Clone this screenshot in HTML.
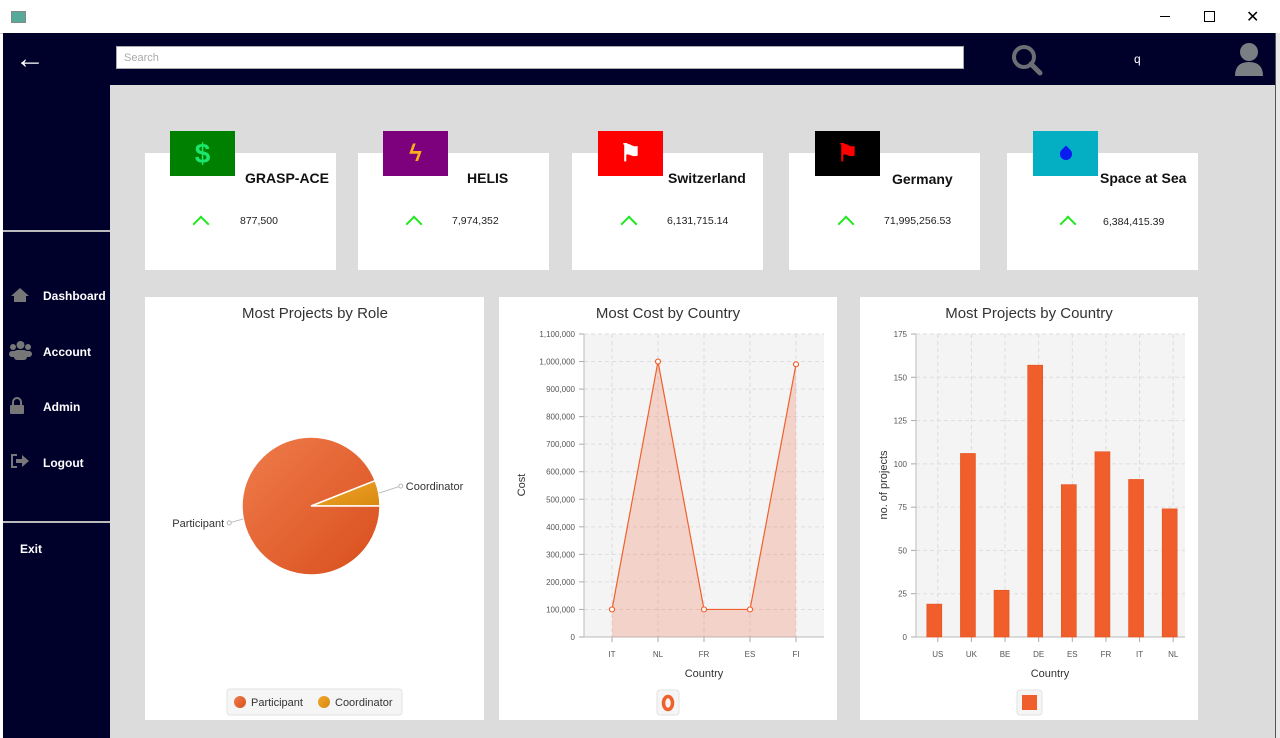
<!DOCTYPE html>
<html><head><meta charset="utf-8">
<style>
body{margin:0;width:1280px;height:738px;overflow:hidden;background:#fff;font-family:"Liberation Sans",sans-serif;position:relative}
.abs{position:absolute}
.navy{background:#00012b}
.card{position:absolute;background:#fff;top:153px;width:191px;height:117px}
.ico{position:absolute;top:131px;width:65px;height:45px;display:flex;align-items:center;justify-content:center;font-weight:bold;font-size:28px}
.ttl{position:absolute;top:170px;font-weight:bold;font-size:14px;color:#111}
.val{position:absolute;top:215px;font-size:10.5px;color:#222}
.chev{position:absolute;top:214px;width:10px;height:10px;border-left:2px solid #1ee81e;border-top:2px solid #1ee81e;transform:rotate(45deg)}
.nav{position:absolute;left:43px;color:#fff;font-weight:bold;font-size:12px}
.panel{position:absolute;background:#fff;top:297px;height:423px}
</style></head><body>
<div class="abs" style="left:0;top:0;width:1280px;height:33px;background:#fff;border-bottom:1px solid #ccc">
 <div class="abs" style="left:11px;top:11px;width:13px;height:10px;border:1px solid #888;background:#5a9"></div>
 <div class="abs" style="left:1160px;top:16px;width:10px;height:1px;background:#000"></div>
 <div class="abs" style="left:1204px;top:11px;width:9px;height:9px;border:1px solid #000"></div>
 <div class="abs" style="left:1246px;top:7px;font-size:16px">✕</div>
</div>
<div class="abs navy" style="left:3px;top:33px;width:1272px;height:52px"></div>
<div class="abs navy" style="left:3px;top:33px;width:107px;height:705px"></div>
<div class="abs" style="left:15px;top:44px;color:#fff;font-size:30px;font-weight:bold;line-height:30px">&#8592;</div>
<div class="abs" style="left:116px;top:46px;width:848px;height:23px;background:#fff;border:1px solid #aaa;font-size:11px;color:#aaa;line-height:23px;padding-left:7px;box-sizing:border-box">Search</div>
<svg class="abs" style="left:1010px;top:43px" width="34" height="34"><circle cx="14" cy="14" r="10" fill="none" stroke="#6b6f73" stroke-width="4"/><line x1="21" y1="21" x2="30" y2="30" stroke="#6b6f73" stroke-width="5" stroke-linecap="round"/></svg>
<div class="abs" style="left:1134px;top:52px;color:#fff;font-size:12px">q</div>
<svg class="abs" style="left:1233px;top:42px" width="32" height="36"><circle cx="16" cy="10" r="9" fill="#7a7f83"/><path d="M2 34 Q2 20 16 20 Q30 20 30 34 Z" fill="#7a7f83"/></svg>
<div class="abs" style="left:1275px;top:33px;width:5px;height:705px;background:#e8e8e8;border-left:1px solid #555"></div>
<div class="abs" style="left:110px;top:85px;width:1165px;height:653px;background:#dcdcdc"></div>
<div class="abs" style="left:3px;top:230px;width:107px;height:2px;background:#bbb"></div>
<div class="abs" style="left:3px;top:521px;width:107px;height:2px;background:#bbb"></div>
<svg class="abs" style="left:10px;top:287px" width="20" height="16"><path d="M10 1 L19 9 L16 9 L16 15 L4 15 L4 9 L1 9 Z" fill="#777"/></svg>
<div class="nav" style="top:289px">Dashboard</div>
<svg class="abs" style="left:9px;top:340px" width="23" height="20"><circle cx="11.5" cy="5" r="4" fill="#777"/><circle cx="4" cy="7" r="3" fill="#777"/><circle cx="19" cy="7" r="3" fill="#777"/><rect x="5" y="10" width="13" height="10" rx="3" fill="#777"/><rect x="0" y="11" width="23" height="6" rx="3" fill="#777"/></svg>
<div class="nav" style="top:345px">Account</div>
<svg class="abs" style="left:10px;top:397px" width="14" height="17"><path d="M3 8 V5 A4 4 0 0 1 11 5 V8" fill="none" stroke="#777" stroke-width="2"/><rect x="0" y="8" width="14" height="9" rx="1" fill="#777"/></svg>
<div class="nav" style="top:400px">Admin</div>
<svg class="abs" style="left:10px;top:453px" width="20" height="16"><path d="M7 2 H2 V14 H7" fill="none" stroke="#777" stroke-width="2"/><path d="M6 6 H12 V2 L19 8 L12 14 V10 H6 Z" fill="#777"/></svg>
<div class="nav" style="top:456px">Logout</div>
<div class="nav" style="top:542px;left:20px">Exit</div>

<div class="card" style="left:145px"></div>
<div class="card" style="left:358px"></div>
<div class="card" style="left:572px"></div>
<div class="card" style="left:789px"></div>
<div class="card" style="left:1007px"></div>
<div class="ico" style="left:170px;background:#008000;color:#19e66a">$</div>
<div class="ico" style="left:383px;background:#7d007d;color:#f5b01c;font-size:24px">&#991;</div>
<div class="ico" style="left:598px;background:#f00;color:#fff;font-size:24px">&#9873;</div>
<div class="ico" style="left:815px;background:#000;color:#f00;font-size:24px">&#9873;</div>
<div class="ico" style="left:1033px;background:#04afc4"><div style="width:12px;height:12px;background:#0a1cf0;border-radius:0 50% 50% 50%;transform:rotate(45deg)"></div></div>
<div class="ttl" style="left:245px">GRASP-ACE</div>
<div class="ttl" style="left:467px">HELIS</div>
<div class="ttl" style="left:668px">Switzerland</div>
<div class="ttl" style="left:892px;top:171px">Germany</div>
<div class="ttl" style="left:1100px">Space at Sea</div>
<div class="chev" style="left:195px;top:218px"></div>
<div class="chev" style="left:408px;top:218px"></div>
<div class="chev" style="left:623px;top:218px"></div>
<div class="chev" style="left:840px;top:218px"></div>
<div class="chev" style="left:1062px;top:218px"></div>
<div class="val" style="left:240px">877,500</div>
<div class="val" style="left:452px">7,974,352</div>
<div class="val" style="left:667px">6,131,715.14</div>
<div class="val" style="left:884px">71,995,256.53</div>
<div class="val" style="left:1103px;top:216px">6,384,415.39</div>

<div class="panel" style="left:145px;width:339px"></div>
<div class="panel" style="left:499px;width:338px"></div>
<div class="panel" style="left:860px;width:338px"></div>

<svg class="abs" id="charts" style="left:0;top:0" width="1280" height="738" font-family="Liberation Sans, sans-serif"></svg>

<script>
const pieLabels=["Participant","Coordinator"];
const pieValues=[94,6];
const lineCats=["IT","NL","FR","ES","FI"];
const lineValues=[100000,1000000,100000,100000,990000];
const lineTicks=[0,100000,200000,300000,400000,500000,600000,700000,800000,900000,1000000,1100000];
const barCats=["US","UK","BE","DE","ES","FR","IT","NL"];
const barValues=[19,106,27,157,88,107,91,74];
const barTicks=[0,25,50,75,100,125,150,175];

const svg=document.getElementById('charts');
const NS='http://www.w3.org/2000/svg';
function mk(tag,attrs,parent){const e=document.createElementNS(NS,tag);for(const k in attrs)e.setAttribute(k,attrs[k]);(parent||svg).appendChild(e);return e;}
function txt(x,y,s,size,fill,anchor,extra){const t=mk('text',Object.assign({x:x,y:y,'font-size':size,fill:fill,'text-anchor':anchor||'middle'},extra||{}));t.textContent=s;return t;}
const fmt=v=>v.toLocaleString('en-US');

const defs=mk('defs',{});
const g1=mk('linearGradient',{id:'gp',x1:0,y1:0,x2:1,y2:1},defs);
mk('stop',{offset:'0','stop-color':'#f07c4c'},g1);mk('stop',{offset:'1','stop-color':'#d84f1c'},g1);
const g2=mk('linearGradient',{id:'gc',x1:0,y1:0,x2:1,y2:1},defs);
mk('stop',{offset:'0','stop-color':'#f0a52a'},g2);mk('stop',{offset:'1','stop-color':'#d98a10'},g2);

// ---- Pie ----
let t=txt(315,318,'Most Projects by Role',15,'#333');


const cx=311,cy=506,r=69;
const total=pieValues.reduce((a,b)=>a+b,0);
const fills=['url(#gp)','url(#gc)'];
let startAng=0;
const order=[1,0];
order.forEach(i=>{
  const sweep=pieValues[i]/total*2*Math.PI;
  const a0=startAng,a1=startAng+sweep;
  const x0=cx+r*Math.cos(a0),y0=cy-r*Math.sin(a0),x1=cx+r*Math.cos(a1),y1=cy-r*Math.sin(a1);
  const large=sweep>Math.PI?1:0;
  const p=mk('path',{d:`M${cx} ${cy} L${x0} ${y0} A${r} ${r} 0 ${large} 0 ${x1} ${y1} Z`,fill:fills[i],stroke:'#fff','stroke-width':1.5});
  
  
  const mid=(a0+a1)/2;
  const ex=cx+r*Math.cos(mid),ey=cy-r*Math.sin(mid);
  let ldx,lyy;
  if(i==1){ldx=ex+22;lyy=ey-7;}else{ldx=ex-14;lyy=ey+4;}
  mk('line',{x1:ex,y1:ey,x2:ldx,y2:lyy,stroke:'#bbb'});
  mk('circle',{cx:ldx,cy:lyy,r:2,fill:'#fff',stroke:'#bbb'});
  const lt=txt(i==1?ldx+5:ldx-5,lyy+4,pieLabels[i],11,'#333',i==1?'start':'end');
  
  
  startAng=a1;
});
const leg=mk('rect',{x:227,y:689,width:175,height:26,rx:3,fill:'#f5f5f5',stroke:'#e2e2e2'});


let lx0=240;
pieLabels.forEach((l,i)=>{
  const c=mk('circle',{cx:lx0,cy:702,r:6,fill:fills[i]});
  
  
  const lt=txt(lx0+11,706,l,11,'#333','start');
  
  
  lx0+=84;
});

// ---- Line/area chart ----
t=txt(668,318,'Most Cost by Country',15,'#333');


const L={x0:584,x1:824,y0:637,y1:334,max:1100000};
const ly=v=>L.y0-(v/L.max)*(L.y0-L.y1);
const lxs=i=>612+i*(796-612)/(lineCats.length-1);
mk('rect',{x:L.x0,y:L.y1,width:L.x1-L.x0,height:L.y0-L.y1,fill:'#f4f4f4'});
lineTicks.forEach(v=>{
  mk('line',{x1:L.x0,x2:L.x1,y1:ly(v),y2:ly(v),stroke:'#ddd','stroke-dasharray':'4,3'});
  mk('line',{x1:L.x0-5,x2:L.x0,y1:ly(v),y2:ly(v),stroke:'#aaa'});
  const tt=txt(L.x0-9,ly(v)+3,fmt(v),8,'#555','end');
  
  
});
lineCats.forEach((c,i)=>{
  mk('line',{x1:lxs(i),x2:lxs(i),y1:L.y1,y2:L.y0,stroke:'#ddd','stroke-dasharray':'4,3'});
  mk('line',{x1:lxs(i),x2:lxs(i),y1:L.y0,y2:L.y0+5,stroke:'#aaa'});
  const tt=txt(lxs(i),657,c,8,'#555');
  
  
});
mk('line',{x1:L.x0,x2:L.x0,y1:L.y1,y2:L.y0,stroke:'#bbb'});
mk('line',{x1:L.x0,x2:L.x1,y1:L.y0,y2:L.y0,stroke:'#bbb'});
let pts=lineValues.map((v,i)=>lxs(i)+','+ly(v)).join(' ');
const area=mk('polygon',{points:lxs(0)+','+L.y0+' '+pts+' '+lxs(lineValues.length-1)+','+L.y0,fill:'rgba(240,110,70,0.25)'});


const pl=mk('polyline',{points:pts,fill:'none',stroke:'#f0602c','stroke-width':1.2});


lineValues.forEach((v,i)=>{
  const c=mk('circle',{cx:lxs(i),cy:ly(v),r:2.5,fill:'#fff',stroke:'#f0602c','stroke-width':1.2});
  
  
});
t=txt(704,677,'Country',11,'#333');


t=txt(0,0,'Cost',11,'#333','middle',{transform:'translate(525,485) rotate(-90)'});


const lg=mk('rect',{x:657,y:690,width:22,height:25,rx:3,fill:'#f5f5f5',stroke:'#e2e2e2'});


mk('ellipse',{cx:668,cy:703,rx:4.5,ry:6.5,fill:'none',stroke:'#f0602c','stroke-width':3.5});

// ---- Bar chart ----
t=txt(1029,318,'Most Projects by Country',15,'#333');


const B={x0:916,x1:1185,y0:637,y1:334,max:175};
const by=v=>B.y0-(v/B.max)*(B.y0-B.y1);
const bw=(B.x1-B.x0)/barCats.length;
const bx=i=>B.x0+bw*(i+0.5)+5;
mk('rect',{x:B.x0,y:B.y1,width:B.x1-B.x0,height:B.y0-B.y1,fill:'#f4f4f4'});
barTicks.forEach(v=>{
  mk('line',{x1:B.x0,x2:B.x1,y1:by(v),y2:by(v),stroke:'#ddd','stroke-dasharray':'4,3'});
  mk('line',{x1:B.x0-5,x2:B.x0,y1:by(v),y2:by(v),stroke:'#aaa'});
  const tt=txt(B.x0-9,by(v)+3,String(v),8,'#555','end');
  
  
});
barCats.forEach((c,i)=>{
  mk('line',{x1:bx(i),x2:bx(i),y1:B.y1,y2:B.y0,stroke:'#ddd','stroke-dasharray':'4,3'});
  mk('line',{x1:bx(i),x2:bx(i),y1:B.y0,y2:B.y0+5,stroke:'#aaa'});
  const tt=txt(bx(i),657,c,8,'#555');
  
  
});
mk('line',{x1:B.x0,x2:B.x0,y1:B.y1,y2:B.y0,stroke:'#bbb'});
mk('line',{x1:B.x0,x2:B.x1,y1:B.y0,y2:B.y0,stroke:'#bbb'});
barValues.forEach((v,i)=>{
  const r=mk('rect',{x:bx(i)-11,y:by(v),width:15,height:B.y0-by(v),fill:'#f05e2c',stroke:'#e4501c','stroke-width':0.6});
  
  
});
t=txt(1050,677,'Country',11,'#333');


t=txt(0,0,'no. of projects',11,'#333','middle',{transform:'translate(887,485) rotate(-90)'});


const bl=mk('rect',{x:1017,y:690,width:25,height:25,rx:3,fill:'#f5f5f5',stroke:'#e2e2e2'});


mk('rect',{x:1022,y:695,width:15,height:15,fill:'#f05e2c'});
</script>
</body></html>
